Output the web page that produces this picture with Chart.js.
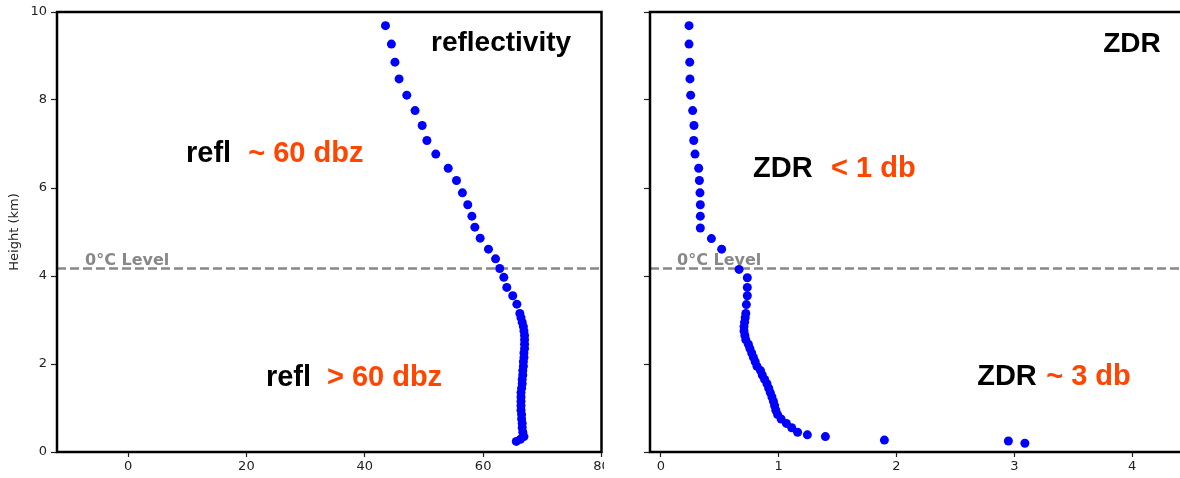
<!DOCTYPE html>
<html>
<head>
<meta charset="utf-8">
<script src="https://cdn.jsdelivr.net/npm/chart.js@4.4.0/dist/chart.umd.min.js"></script>
<style>
  html, body { margin: 0; padding: 0; background: #fff; overflow: hidden; }
  body { width: 1180px; height: 478px; position: relative; }
  canvas { position: absolute; top: 0; background: #fff; }
  #reflChart { left: 0; }
  #zdrChart { left: 604px; }
</style>
</head>
<body>
<canvas id="reflChart" width="606" height="478"></canvas>
<canvas id="zdrChart" width="604" height="478"></canvas>
<script>
// reflectivity profile (dBZ) vs height (km)
var reflHeight = [9.69, 9.27, 8.86, 8.48, 8.11, 7.76, 7.42, 7.08, 6.77, 6.45, 6.17, 5.89,
  5.62, 5.36, 5.11, 4.86, 4.61, 4.39, 4.17, 3.97, 3.74, 3.55, 3.36, 3.15,
  3.05, 2.95, 2.85, 2.75, 2.65, 2.55, 2.45, 2.35, 2.25, 2.15, 2.05, 1.95,
  1.85, 1.75, 1.65, 1.55, 1.45, 1.35, 1.25, 1.15, 1.05, 0.95, 0.85, 0.75,
  0.65, 0.55, 0.45, 0.35, 0.29, 0.24];
var reflValue = [43.5, 44.5, 45.1, 45.8, 47.1, 48.5, 49.7, 50.5, 52.0, 54.1, 55.5, 56.5,
  57.4, 58.1, 58.6, 59.5, 60.9, 62.1, 62.8, 63.5, 64.0, 65.0, 65.7, 66.2,
  66.4, 66.6, 66.8, 66.9, 67.0, 67.0, 67.0, 67.0, 66.9, 66.9, 66.8, 66.8,
  66.7, 66.7, 66.6, 66.6, 66.5, 66.4, 66.4, 66.4, 66.4, 66.4, 66.5, 66.5,
  66.6, 66.6, 66.7, 66.9, 66.3, 65.6];

// differential reflectivity profile (dB) vs height (km)
var zdrHeight = [9.69, 9.27, 8.86, 8.48, 8.11, 7.76, 7.42, 7.08, 6.77, 6.45, 6.17, 5.89,
  5.62, 5.36, 5.09, 4.85, 4.61, 4.15, 3.96, 3.74, 3.55, 3.35, 3.15,
  3.05, 2.95, 2.85, 2.75, 2.65, 2.55, 2.45, 2.35, 2.25, 2.15, 2.05, 1.95,
  1.85, 1.75, 1.65, 1.55, 1.45, 1.35, 1.25, 1.15, 1.05, 0.95, 0.85, 0.75,
  0.65, 0.55, 0.45, 0.39, 0.35, 0.27, 0.25, 0.20];
var zdrValue = [0.238, 0.238, 0.244, 0.246, 0.252, 0.269, 0.280, 0.278, 0.289, 0.320, 0.326, 0.331,
  0.334, 0.334, 0.334, 0.428, 0.515, 0.663, 0.733, 0.733, 0.733, 0.725, 0.720,
  0.715, 0.710, 0.705, 0.705, 0.712, 0.720, 0.742, 0.755, 0.770, 0.785, 0.800, 0.815,
  0.845, 0.860, 0.880, 0.900, 0.915, 0.928, 0.942, 0.955, 0.965, 0.975, 0.990, 1.020,
  1.065, 1.110, 1.160, 1.243, 1.396, 1.897, 2.950, 3.090];

var freezeLevel = 4.17;
var heightTicks = [0, 2, 4, 6, 8, 10];
var reflTicks = [0, 20, 40, 60, 80];
var zdrTicks = [0, 1, 2, 3, 4];

var orange = '#ff4500';
var bigFont = 'bold 29px "Liberation Sans", Arial, sans-serif';
var titleFont = 'bold 28px "Liberation Sans", Arial, sans-serif';
var levelFont = 'bold 16px "DejaVu Sans", sans-serif';

var reflNotes = [
  { text: 'reflectivity', x: 51.2, y: 9.11, color: '#000', font: titleFont },
  { text: 'refl', x: 9.8, y: 6.60, color: '#000', font: bigFont },
  { text: '~ 60 dbz', x: 20.3, y: 6.60, color: orange, font: bigFont },
  { text: 'refl', x: 23.3, y: 1.51, color: '#000', font: bigFont },
  { text: '> 60 dbz', x: 33.6, y: 1.51, color: orange, font: bigFont },
  { text: '0°C Level', x: -7.27, y: 4.25, color: '#888', font: levelFont }
];
var zdrNotes = [
  { text: 'ZDR', x: 3.755, y: 9.10, color: '#000', font: titleFont },
  { text: 'ZDR', x: 0.782, y: 6.25, color: '#000', font: bigFont },
  { text: '< 1 db', x: 1.444, y: 6.25, color: orange, font: bigFont },
  { text: 'ZDR', x: 2.685, y: 1.52, color: '#000', font: bigFont },
  { text: '~ 3 db', x: 3.271, y: 1.52, color: orange, font: bigFont },
  { text: '0°C Level', x: 0.136, y: 4.25, color: '#888', font: levelFont }
];

// texts in data units + full box frame round the plot area
var panelDecor = {
  id: 'panelDecor',
  afterDatasetsDraw: function(chart, args, opts) {
    var ctx = chart.ctx, a = chart.chartArea;
    var xs = chart.scales.x, ys = chart.scales.y;
    ctx.save();
    ctx.textAlign = 'left';
    ctx.textBaseline = 'alphabetic';
    (opts.notes || []).forEach(function(n) {
      ctx.font = n.font;
      ctx.fillStyle = n.color;
      ctx.fillText(n.text, xs.getPixelForValue(n.x), ys.getPixelForValue(n.y));
    });
    ctx.strokeStyle = '#000';
    ctx.lineWidth = 2.5;
    ctx.strokeRect(a.left, a.top, a.right - a.left, a.bottom - a.top);
    ctx.restore();
  }
};

function toPoints(xs, ys) {
  return xs.map(function(v, i) { return { x: v, y: ys[i] }; });
}

function makeChart(id, values, heights, xmin, xmax, xticks, opt) {
  var tickFont = { family: 'DejaVu Sans', size: 13 };
  return new Chart(document.getElementById(id), {
    type: 'scatter',
    data: {
      datasets: [{
        data: toPoints(values, heights),
        backgroundColor: '#0000ff',
        borderWidth: 0,
        pointRadius: 4.5,
        order: 0
      }, {
        type: 'line',
        data: [{ x: xmin, y: freezeLevel }, { x: xmax, y: freezeLevel }],
        showLine: true,
        borderColor: '#888',
        borderWidth: 2.5,
        borderDash: [9, 4],
        pointRadius: 0,
        order: 1
      }]
    },
    options: {
      responsive: false,
      animation: false,
      layout: { padding: { top: 12, right: opt.padRight, left: 0, bottom: 0 } },
      plugins: {
        legend: { display: false },
        tooltip: { enabled: false },
        panelDecor: { notes: opt.notes }
      },
      scales: {
        x: {
          type: 'linear', min: xmin, max: xmax,
          afterBuildTicks: function(s) { s.ticks = xticks.map(function(v) { return { value: v }; }); },
          afterFit: function(s) { s.height = 26; s.paddingLeft = 0; s.paddingRight = 0; },
          grid: { drawOnChartArea: false, drawTicks: true, tickLength: 5, tickColor: '#222', tickWidth: 1.2 },
          border: { display: false },
          ticks: { color: '#222', font: tickFont, padding: 2, maxRotation: 0, autoSkip: false }
        },
        y: {
          type: 'linear', min: 0, max: 10,
          afterBuildTicks: function(s) { s.ticks = heightTicks.map(function(v) { return { value: v }; }); },
          afterFit: function(s) { s.width = opt.yWidth; s.paddingTop = 0; s.paddingBottom = 0; },
          grid: { drawOnChartArea: false, drawTicks: true, tickLength: 6, tickColor: '#222', tickWidth: 1.2 },
          border: { display: false },
          title: {
            display: opt.yTitle, text: 'Height (km)', color: '#222',
            font: { family: 'DejaVu Sans', size: 13 }, padding: { top: 7, bottom: 0 }
          },
          ticks: { display: opt.yLabels, color: '#222', font: tickFont, padding: 4, autoSkip: false }
        }
      }
    },
    plugins: [panelDecor]
  });
}

makeChart('reflChart', reflValue, reflHeight, -12, 80, reflTicks,
  { padRight: 4.5, yWidth: 57, yTitle: true, yLabels: true, notes: reflNotes });
makeChart('zdrChart', zdrValue, zdrHeight, -0.0934, 4.5, zdrTicks,
  { padRight: 17.1, yWidth: 46, yTitle: false, yLabels: false, notes: zdrNotes });
</script>
</body>
</html>
